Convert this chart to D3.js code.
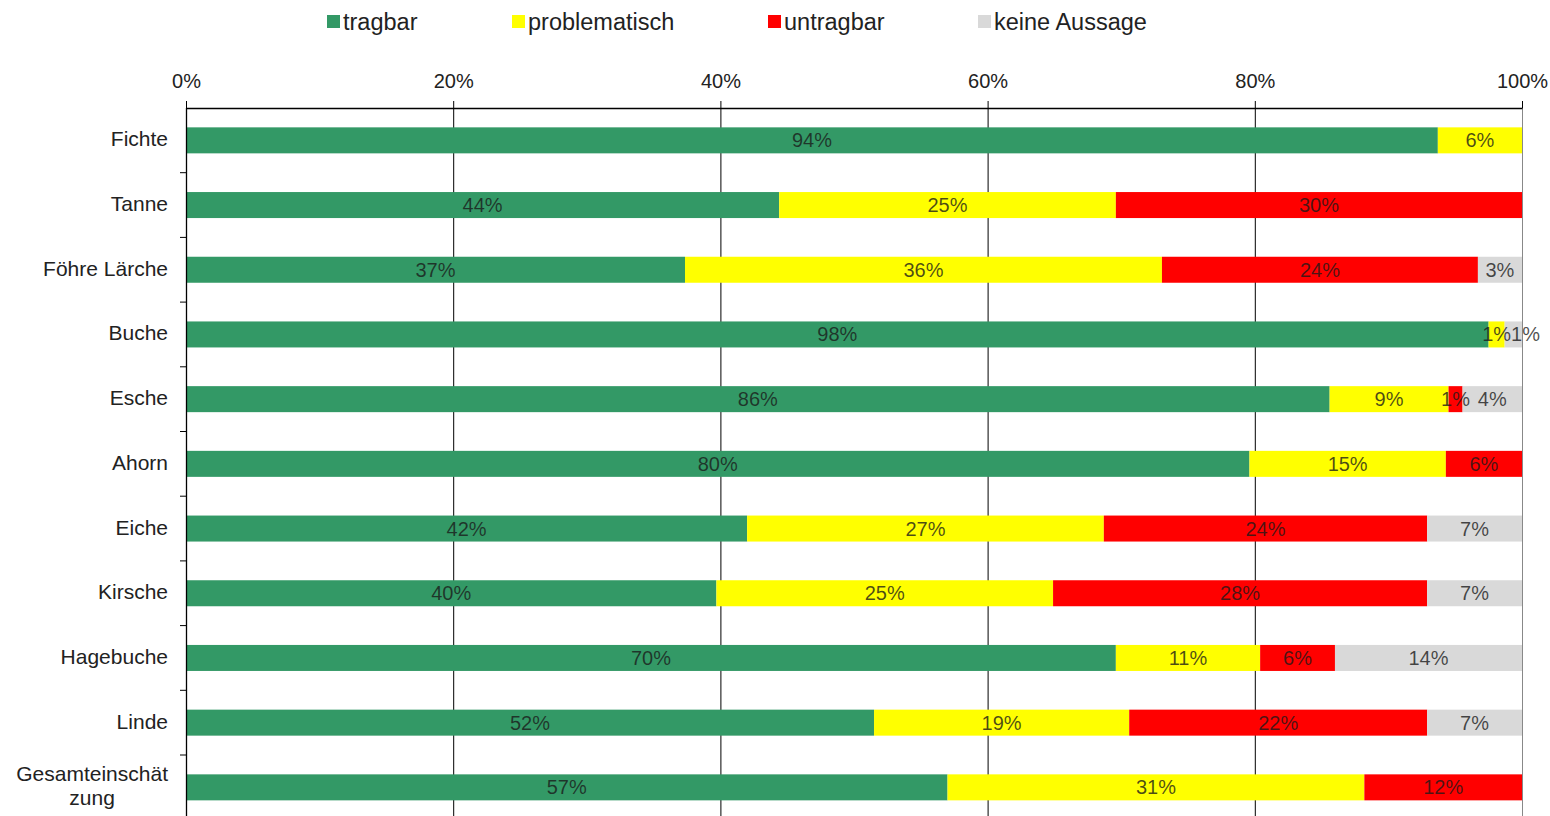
<!DOCTYPE html>
<html>
<head>
<meta charset="utf-8">
<script src="https://cdn.jsdelivr.net/npm/d3@7"></script>
<style>
  body { margin: 0; background: #fff; }
  svg text { font-family: "Liberation Sans", Arial, sans-serif; }
</style>
</head>
<body>
<div id="chart"></div>
<script>
// Tragbarkeit des Wildverbisses nach Baumart (Anteile in %)
const categories = ["Fichte", "Tanne", "Föhre Lärche", "Buche", "Esche", "Ahorn",
  "Eiche", "Kirsche", "Hagebuche", "Linde", "Gesamteinschätzung"];
const seriesNames = ["tragbar", "problematisch", "untragbar", "keine Aussage"];

const tragbar       = [93.7, 44.4, 37.35, 97.5, 85.6, 79.6, 42.0, 39.7, 69.6, 51.5, 57.0];
const problematisch = [6.3, 25.2, 35.7, 1.2, 8.9, 14.7, 26.7, 25.2, 10.8, 19.1, 31.2];
const untragbar     = [0, 30.4, 23.65, 0, 1.05, 5.7, 24.2, 28.0, 5.6, 22.3, 11.8];
const keineAussage  = [0, 0, 3.3, 1.3, 4.45, 0, 7.1, 7.1, 14.0, 7.1, 0];

const xTicks = [0, 20, 40, 60, 80, 100];

const colors = { "tragbar": "#339966", "problematisch": "#ffff00", "untragbar": "#ff0000", "keine Aussage": "#d9d9d9" };

const width = 1550, height = 816;
const margin = { top: 108, left: 186, right: 28 };
const step = 64.7;

const rows = categories.map((c, i) => ({
  cat: c,
  "tragbar": tragbar[i],
  "problematisch": problematisch[i],
  "untragbar": untragbar[i],
  "keine Aussage": keineAussage[i]
}));

const stacked = d3.stack().keys(seriesNames)(rows);

const svg = d3.select("#chart").append("svg")
  .attr("width", width)
  .attr("height", height);

const x = d3.scaleLinear()
  .domain([0, 100])
  .range([margin.left, width - margin.right]);

const y = d3.scaleBand()
  .domain(categories)
  .range([margin.top, margin.top + step * categories.length])
  .padding(0);

const barH = 26;

// gridlines
svg.append("g")
  .selectAll("line")
  .data(xTicks.filter(t => t > 0))
  .join("line")
  .attr("x1", d => x(d) + 0.5).attr("x2", d => x(d) + 0.5)
  .attr("y1", margin.top).attr("y2", height)
  .attr("stroke", d => d === 100 ? "#888" : "#000")
  .attr("stroke-width", 1);

// bars
stacked.forEach(s => {
  svg.append("g")
    .selectAll("rect")
    .data(s.filter(d => d[1] - d[0] > 0))
    .join("rect")
    .attr("x", d => x(d[0]))
    .attr("width", d => x(d[1]) - x(d[0]))
    .attr("y", d => y(d.data.cat) + y.bandwidth() / 2 - barH / 2)
    .attr("height", barH)
    .attr("fill", colors[s.key]);
});

// bar labels
const labelG = svg.append("g");
stacked.forEach(s => {
  labelG.selectAll(null)
    .data(s.filter(d => d[1] - d[0] > 0))
    .join("text")
    .attr("class", "seglabel")
    .attr("x", d => x((d[0] + d[1]) / 2))
    .attr("y", d => y(d.data.cat) + y.bandwidth() / 2 + 7)
    .attr("text-anchor", "middle")
    .style("font-size", "20px")
    .style("fill", "#1a1a1a")
    .style("fill-opacity", 0.78)
    .text(d => Math.round(d[1] - d[0]) + "%");
});

// push tiny-segment labels apart so they don't sit on top of each other
categories.forEach(c => {
  const labs = labelG.selectAll(".seglabel")
    .filter(d => d.data.cat === c)
    .nodes()
    .sort((a, b) => +a.getAttribute("x") - +b.getAttribute("x"));
  let prevRight = -Infinity;
  labs.forEach(n => {
    const w = n.getComputedTextLength();
    let cx = +n.getAttribute("x");
    if (cx - w / 2 < prevRight) {
      cx = prevRight + w / 2;
      n.setAttribute("x", cx);
    }
    prevRight = cx + w / 2;
  });
});

// top axis
const xAxis = svg.append("g")
  .attr("transform", `translate(0, ${margin.top})`)
  .call(d3.axisTop(x).tickValues(xTicks).tickFormat(d => d + "%").tickSize(7).tickSizeOuter(0));
xAxis.select(".domain").attr("stroke", "#000").attr("stroke-width", 1.3);
xAxis.selectAll(".tick line").attr("stroke", "#000");
xAxis.selectAll("text")
  .attr("y", -20)
  .style("font-size", "20px")
  .style("fill", "#222");

// left axis line with boundary ticks
svg.append("line")
  .attr("x1", margin.left + 0.5).attr("x2", margin.left + 0.5)
  .attr("y1", margin.top).attr("y2", height)
  .attr("stroke", "#000").attr("stroke-width", 1.3);

svg.append("g")
  .selectAll("line")
  .data(categories.slice(1))
  .join("line")
  .attr("x1", margin.left - 6).attr("x2", margin.left)
  .attr("y1", d => y(d)).attr("y2", d => y(d))
  .attr("stroke", "#000");

// category labels
const catG = svg.append("g");
categories.forEach(c => {
  const cy = y(c) + y.bandwidth() / 2;
  if (c === "Gesamteinschätzung") {
    const t1 = catG.append("text")
      .attr("x", 168).attr("y", cy - 6)
      .attr("text-anchor", "end")
      .style("font-size", "21px").style("fill", "#222")
      .text("Gesamteinschät");
    const w = t1.node().getComputedTextLength();
    catG.append("text")
      .attr("x", 168 - w / 2).attr("y", cy + 18)
      .attr("text-anchor", "middle")
      .style("font-size", "21px").style("fill", "#222")
      .text("zung");
  } else {
    catG.append("text")
      .attr("x", 168).attr("y", cy + 6)
      .attr("text-anchor", "end")
      .style("font-size", "21px").style("fill", "#222")
      .text(c);
  }
});

// legend
const legendX = [327, 512, 768, 978];
seriesNames.forEach((n, i) => {
  const g = svg.append("g").attr("transform", `translate(${legendX[i]}, 22)`);
  g.append("rect")
    .attr("x", 0).attr("y", -7)
    .attr("width", 13).attr("height", 13)
    .attr("fill", colors[n]);
  g.append("text")
    .attr("x", 16).attr("y", 8)
    .style("font-size", "23.5px").style("fill", "#222")
    .text(n);
});
</script>
</body>
</html>
